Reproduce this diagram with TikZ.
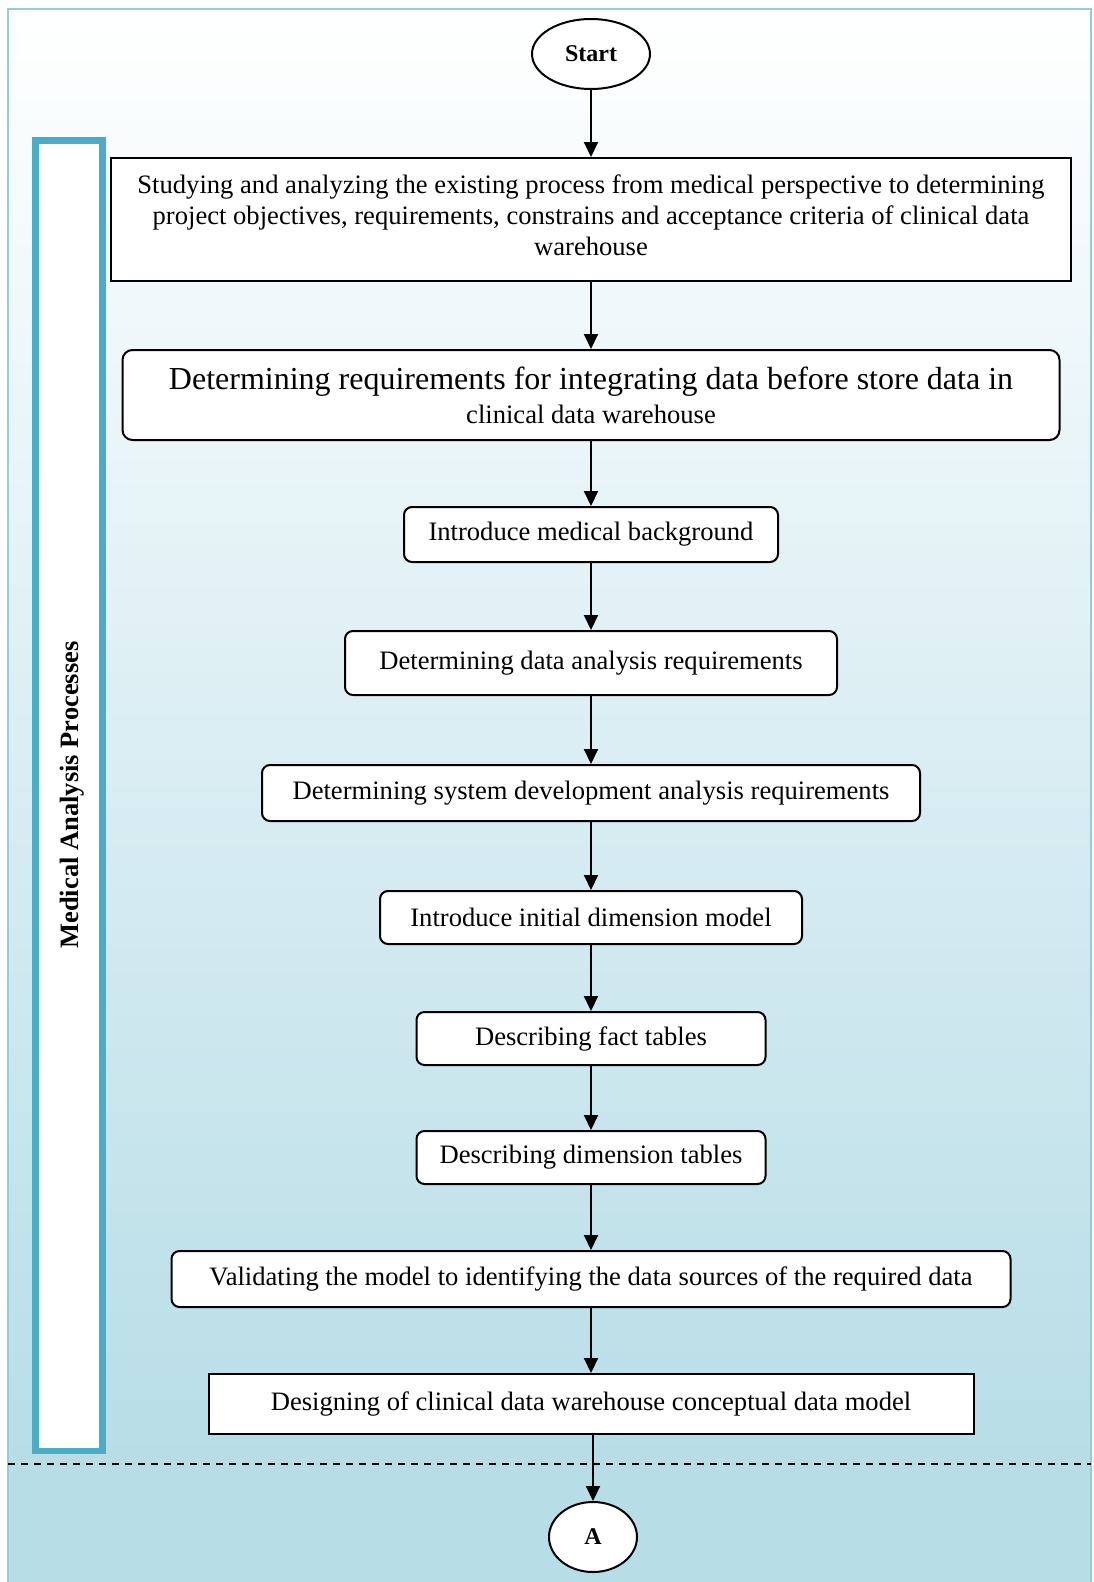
\documentclass[tikz,border=0pt]{standalone}
\usepackage{fontspec}
\setmainfont{Liberation Serif}
\usetikzlibrary{shapes.geometric,arrows.meta}
\definecolor{bgblue}{RGB}{183,221,231}
\definecolor{frameblue}{RGB}{146,205,220}
\definecolor{barblue}{RGB}{75,172,198}
\newcommand{\txtsize}{\fontsize{26.6}{30.8}\selectfont}
\newcommand{\bigsize}{\fontsize{32}{34}\selectfont}
\newcommand{\termsize}{\fontsize{24}{28}\selectfont\bfseries}
\tikzset{
  stepbox/.style={draw=black, line width=2pt, fill=white, inner sep=0pt,
    align=center, font=\txtsize},
  roundbox/.style={stepbox, rounded corners=8pt},
  terminal/.style={draw=black, line width=2pt, fill=white, ellipse,
    inner sep=0pt, font=\termsize},
  flow/.style={line width=2pt, -{Triangle[length=15pt,width=14pt]}},
}
\begin{document}
\begin{tikzpicture}[x=1pt,y=-1pt]
\useasboundingbox (0,0) rectangle (1093,1582);
% background panel with gradient above the separator
\shade[top color=white, bottom color=bgblue] (8,9) rectangle (1091,1464);
\fill[bgblue] (8,1464) rectangle (1091,1582);
\draw[frameblue, line width=2pt] (8,1582) -- (8,9) -- (1091,9) -- (1091,1582);
% separator
\draw[line width=2pt, dash pattern=on 7pt off 6pt] (8,1464) -- (1091,1464);
% side bar
\draw[barblue, line width=6.5pt, fill=white] (35.3,140.5) rectangle (102.5,1451);
\node[rotate=90, font=\fontsize{26.5}{28}\selectfont\bfseries] (lbl) at (72,795) {Medical Analysis Processes};

% terminals
\node[terminal, minimum width=118pt, minimum height=70pt] (start) at (591,54) {Start};
\node[terminal, minimum width=88pt, minimum height=70pt] (end) at (593,1537) {A};

% process steps
\node[stepbox, minimum width=960pt, minimum height=123pt] (b1) at (591,219.5)
  {Studying and analyzing the existing process from medical perspective to determining\\
   project objectives, requirements, constrains and acceptance criteria of clinical data\\
   warehouse\\[-22pt]\mbox{}};
\node[roundbox, rounded corners=10pt, minimum width=937pt, minimum height=90pt] (b2) at (591,395)
  {{\bigsize Determining requirements for integrating data before store data in}\\[3pt]
   clinical data warehouse};
\node[roundbox, minimum width=374pt, minimum height=55pt] (b3) at (591,534.5)
  {Introduce medical background};
\node[roundbox, minimum width=492pt, minimum height=64pt] (b4) at (591,663)
  {Determining data analysis requirements};
\node[roundbox, minimum width=658pt, minimum height=56pt] (b5) at (591,793)
  {Determining system development analysis requirements};
\node[roundbox, minimum width=422pt, minimum height=53pt] (b6) at (591,917.5)
  {Introduce initial dimension model};
\node[roundbox, minimum width=349pt, minimum height=53pt] (b7) at (591,1038.5)
  {Describing fact tables};
\node[roundbox, minimum width=349pt, minimum height=53pt] (b8) at (591,1157.5)
  {Describing dimension tables};
\node[roundbox, minimum width=839pt, minimum height=56pt] (b9) at (591,1279)
  {Validating the model to identifying the data sources of the required data};
\node[stepbox, minimum width=765pt, minimum height=60pt] (b10) at (591,1404)
  {Designing of clinical data warehouse conceptual data model};

% connectors
\draw[flow] (start) -- (b1);
\draw[flow] (b1) -- (b2);
\draw[flow] (b2) -- (b3);
\draw[flow] (b3) -- (b4);
\draw[flow] (b4) -- (b5);
\draw[flow] (b5) -- (b6);
\draw[flow] (b6) -- (b7);
\draw[flow] (b7) -- (b8);
\draw[flow] (b8) -- (b9);
\draw[flow] (b9) -- (b10);
\draw[flow] (b10.south -| end) -- (end);
\end{tikzpicture}
\end{document}
